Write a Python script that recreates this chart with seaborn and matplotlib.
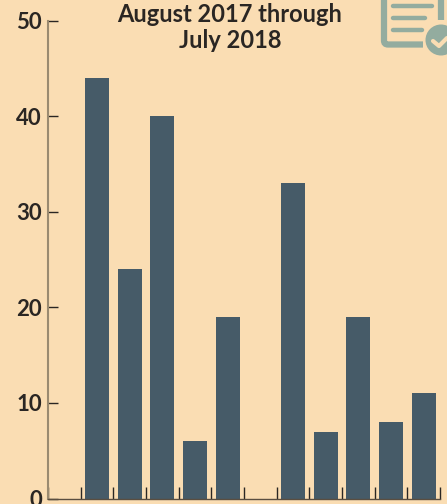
"""
Single bar chart, two groups of five bars, with a clipped document icon top right.
"""

import numpy as np
import pandas as pd
import matplotlib
matplotlib.use("Agg")
import matplotlib.pyplot as plt
from matplotlib.patches import Circle, FancyBboxPatch, Rectangle
import seaborn as sns

# blank slots keep the gap before each group, the category names are cut off in the picture
categories = ["gap1", "a1", "a2", "a3", "a4", "a5", "gap2", "b1", "b2", "b3", "b4", "b5"]
values = [np.nan, 44, 24, 40, 6, 19, np.nan, 33, 7, 19, 8, 11]
y_ticks = [0, 10, 20, 30, 40, 50]
title_lines = ["August 2017 through", "July 2018"]

BG = "#FADDB3"
BAR = "#465B68"
ICON = "#93AC9F"
INK = "#2A2623"

sns.set_theme(style="ticks")
plt.rcParams["font.family"] = ["Lato", "DejaVu Sans"]

df = pd.DataFrame({"category": categories, "value": values})

fig = plt.figure(figsize=(4.47, 5.04), dpi=100, facecolor=BG)
ax = fig.add_axes([48 / 447, 1 - 498.5 / 504, 392 / 447, 478 / 504], facecolor=BG)

sns.barplot(data=df, x="category", y="value", color=BAR, saturation=1, width=0.735,
            linewidth=0, ax=ax)

ax.set_xlim(-0.5, 11.5)
ax.set_ylim(0, 50)
ax.set_xlabel("")
ax.set_ylabel("")
ax.set_yticks(y_ticks)
ax.set_xticks(np.arange(-0.5, 12))
ax.set_xticklabels([])
ax.tick_params(axis="y", direction="in", length=7.2, width=1, color=INK,
               labelsize=16, labelcolor=INK, pad=4.5)
ax.tick_params(axis="x", direction="in", length=8.6, width=1, color=INK)
for label in ax.get_yticklabels():
    label.set_fontweight("bold")

ax.spines["top"].set_visible(False)
ax.spines["right"].set_visible(False)
ax.spines["left"].set_color("#9A8A70")
ax.spines["left"].set_linewidth(1.5)
ax.spines["bottom"].set_color("#5A4E40")
ax.spines["bottom"].set_linewidth(1)

fig.text(230 / 447, 1 - 15 / 504, title_lines[0], ha="center", va="center",
         fontsize=17, fontweight="bold", color=INK)
fig.text(230 / 447, 1 - 41 / 504, title_lines[1], ha="center", va="center",
         fontsize=17, fontweight="bold", color=INK)

# icon, drawn in pixel coordinates on an overlay
ov = fig.add_axes([0, 0, 1, 1], facecolor="none")
ov.set_xlim(0, 447)
ov.set_ylim(504, 0)
ov.axis("off")
ov.add_patch(FancyBboxPatch((384, -20), 57, 64.5, boxstyle="round,pad=0,rounding_size=4",
                            fc="none", ec=ICON, lw=4.5))
ov.add_patch(Rectangle((423, 20), 24, 30, fc=BG, ec="none"))
for y0, x1 in [(5.5, 432), (17.5, 425), (30, 422)]:
    ov.plot([393, x1], [y0, y0], color=ICON, lw=3.2, solid_capstyle="round")
ov.add_patch(Circle((441, 40), 15.5, fc=ICON, ec="none"))
ov.plot([433, 439, 447], [41, 46, 38], color=BG, lw=3, solid_capstyle="round")

fig.savefig("out.png", dpi=100, facecolor=BG)
